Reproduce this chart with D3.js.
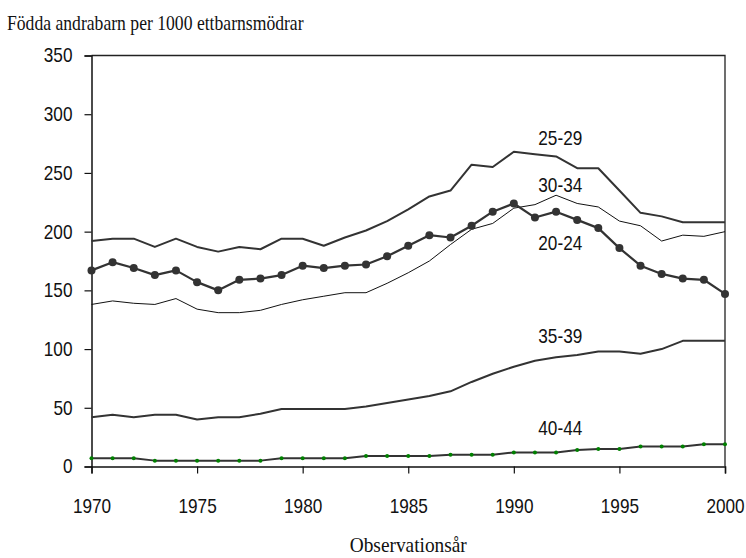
<!DOCTYPE html>
<html>
<head>
<meta charset="utf-8">
<script src="https://cdn.jsdelivr.net/npm/d3@7"></script>
<style>
  body { margin: 0; background: #fff; }
  #chart { width: 746px; height: 558px; }
</style>
</head>
<body>
<div id="chart"></div>
<script>
// Years on the x axis
const years = d3.range(1970, 2001);

// Births of second child per 1000 mothers with one child, by age group
const age2024 = [167, 174, 169, 163, 167, 157, 150, 159, 160, 163, 171, 169, 171, 172, 179, 188,
  197, 195, 205, 217, 224, 212, 217, 210, 203, 186, 171, 164, 160, 159, 147];
const age2529 = [192, 194, 194, 187, 194, 187, 183, 187, 185, 194, 194, 188, 195, 201, 209, 219,
  230, 235, 257, 255, 268, 266, 264, 254, 254, 235, 216, 213, 208, 208, 208];
const age3034 = [138, 141, 139, 138, 143, 134, 131, 131, 133, 138, 142, 145, 148, 148, 156, 165,
  175, 189, 202, 207, 220, 223, 231, 224, 221, 209, 205, 192, 197, 196, 200];
const age3539 = [42, 44, 42, 44, 44, 40, 42, 42, 45, 49, 49, 49, 49, 51, 54, 57,
  60, 64, 72, 79, 85, 90, 93, 95, 98, 98, 96, 100, 107, 107, 107];
const age4044 = [7, 7, 7, 5, 5, 5, 5, 5, 5, 7, 7, 7, 7, 9, 9, 9,
  9, 10, 10, 10, 12, 12, 12, 14, 15, 15, 17, 17, 17, 19, 19];

// Tick values
const yTicks = [0, 50, 100, 150, 200, 250, 300, 350];
const xTicks = [1970, 1975, 1980, 1985, 1990, 1995, 2000];

// Series labels, placed in data coordinates
const labelNames = ["25-29", "30-34", "20-24", "35-39", "40-44"];
const labelYears = [1992.2, 1992.2, 1992.2, 1992.2, 1992.2];
const labelValues = [280, 240, 190.5, 111.5, 32.5];

// narrow look for the sans text (no condensed face installed)
const NARROW = 0.86;

document.addEventListener("DOMContentLoaded", function () {
  createLineChart(document.getElementById("chart"));
});

function createLineChart(container) {
  container.innerHTML = "";

  const margin = { top: 55.5, right: 21, bottom: 91.5, left: 91.5 };
  const width = 746 - margin.left - margin.right;
  const height = 558 - margin.top - margin.bottom;
  const sansFont = "'Liberation Sans', Arial, sans-serif";
  const serifFont = "'Liberation Serif', 'Times New Roman', serif";

  const root = d3
    .select(container)
    .append("svg")
    .attr("width", 746)
    .attr("height", 558);

  // Title
  root
    .append("text")
    .attr("transform", "translate(7,30) scale(0.84,1)")
    .style("font-family", serifFont)
    .style("font-size", "21px")
    .style("fill", "#111")
    .text("Födda andrabarn per 1000 ettbarnsmödrar");

  const svg = root
    .append("g")
    .attr("transform", `translate(${margin.left},${margin.top})`);

  // Scales
  const x = d3.scaleLinear().domain([1970, 2000]).range([0, width]);
  const y = d3.scaleLinear().domain([0, 350]).range([height, 0]);

  // Frame on top and right
  svg
    .append("path")
    .attr("d", `M0,0H${width}V${height}`)
    .attr("fill", "none")
    .attr("stroke", "#222")
    .attr("stroke-width", 1.3);

  // X axis
  const xAxis = svg
    .append("g")
    .attr("transform", `translate(0,${height})`)
    .call(d3.axisBottom(x).tickValues(xTicks).tickFormat(d3.format("d")).tickSizeOuter(0).tickSize(7).tickPadding(25));
  styleAxis(xAxis, sansFont);
  xAxis.selectAll(".tick text").attr("transform", `scale(${NARROW},1)`);

  // Y axis
  const yAxis = svg
    .append("g")
    .call(d3.axisLeft(y).tickValues(yTicks).tickSizeOuter(0).tickSize(7).tickPadding(12));
  styleAxis(yAxis, sansFont);
  yAxis
    .selectAll(".tick text")
    .attr("x", 0)
    .attr("transform", `translate(-19,0) scale(${NARROW},1)`);

  // Lines
  const line = d3
    .line()
    .x((d, i) => x(years[i]))
    .y((d) => y(d));

  const series = [
    { values: age2529, width: 2, color: "#333" },
    { values: age3034, width: 1, color: "#111" },
    { values: age3539, width: 2, color: "#333" },
    { values: age4044, width: 2, color: "#333" },
    { values: age2024, width: 2.2, color: "#333" },
  ];

  svg
    .selectAll(".series")
    .data(series)
    .enter()
    .append("path")
    .attr("class", "series")
    .attr("d", (d) => line(d.values))
    .attr("fill", "none")
    .attr("stroke", (d) => d.color)
    .attr("stroke-width", (d) => d.width)
    .attr("stroke-linejoin", "round");

  // Markers for 20-24
  svg
    .selectAll(".dot2024")
    .data(age2024)
    .enter()
    .append("circle")
    .attr("class", "dot2024")
    .attr("cx", (d, i) => x(years[i]))
    .attr("cy", (d) => y(d))
    .attr("r", 4)
    .attr("fill", "#333");

  // Markers for 40-44
  svg
    .selectAll(".dot4044")
    .data(age4044)
    .enter()
    .append("circle")
    .attr("class", "dot4044")
    .attr("cx", (d, i) => x(years[i]))
    .attr("cy", (d) => y(d))
    .attr("r", 2)
    .attr("fill", "#008000");

  // Series labels
  svg
    .selectAll(".label")
    .data(labelNames)
    .enter()
    .append("text")
    .attr("class", "label")
    .attr("transform", (d, i) => `translate(${x(labelYears[i])},${y(labelValues[i])}) scale(${NARROW},1)`)
    .attr("dy", "0.35em")
    .attr("text-anchor", "middle")
    .style("font-family", sansFont)
    .style("font-size", "20px")
    .style("fill", "#111")
    .text((d) => d);

  // X axis title
  root
    .append("text")
    .attr("transform", `translate(${margin.left + width / 2},552) scale(0.9,1)`)
    .attr("text-anchor", "middle")
    .style("font-family", serifFont)
    .style("font-size", "21.5px")
    .style("fill", "#111")
    .text("Observationsår");
}

function styleAxis(axis, font) {
  axis.select(".domain").attr("stroke", "#111").attr("stroke-width", 1.5);
  axis.selectAll(".tick line").attr("stroke", "#111").attr("stroke-width", 1.2);
  axis
    .selectAll("text")
    .style("font-family", font)
    .style("font-size", "20px")
    .style("fill", "#111");
}
</script>
</body>
</html>
